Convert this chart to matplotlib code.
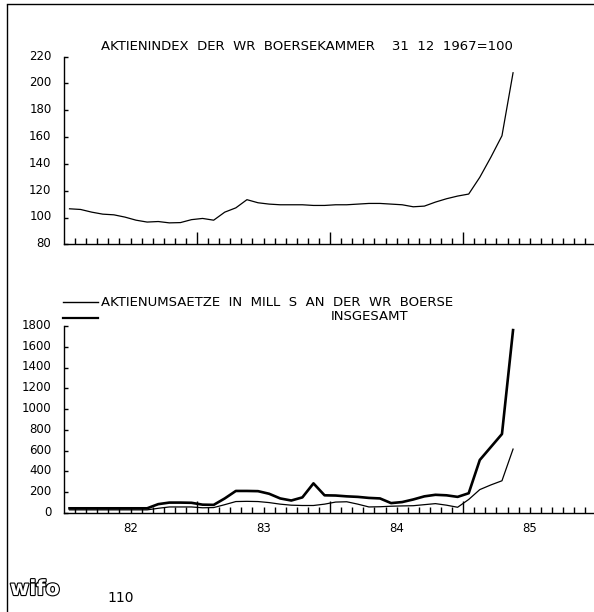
import matplotlib
matplotlib.use("Agg")
from matplotlib import pyplot as plt
from matplotlib import transforms
from matplotlib.lines import Line2D
import matplotlib.patheffects as pe
import numpy as np

# monthly values, January 1982 to May 1985
index_values = [106.5, 106, 104, 102.5, 102, 100.3, 98, 96.6, 97, 96, 96.2, 98.4,
                99.3, 98, 104, 107.2, 113.3, 111, 110, 109.5, 109.5, 109.5, 109, 109,
                109.5, 109.5, 110, 110.5, 110.5, 110, 109.5, 108, 108.5, 111.5, 114, 116,
                117.5, 130, 145, 161, 208]
turnover_total = [45, 45, 45, 45, 45, 45, 45, 45, 85, 100, 100, 98,
                  80, 78, 140, 212, 212, 210, 185, 140, 120, 150, 285, 170,
                  168, 160, 155, 145, 140, 95, 105, 130, 160, 175, 170, 155,
                  190, 510, 635, 760, 1760]
turnover_part = [30, 30, 30, 30, 30, 30, 30, 30, 45, 58, 58, 58,
                 50, 52, 80, 110, 112, 110, 100, 85, 75, 72, 72, 85,
                 105, 108, 85, 58, 60, 65, 68, 70, 80, 90, 75, 55,
                 130, 225, 270, 310, 615]
year_labels = ["82", "83", "84", "85"]
index_ticks = list(range(80, 221, 20))
turnover_ticks = list(range(0, 1801, 200))

months = np.arange(len(index_values)) + 0.5
x_max = 47.8

plt.rcParams['font.family'] = ['DejaVu Sans']
fig = plt.figure(figsize=(5.94, 6.12), dpi=100)

ax1 = fig.add_axes([0.1077, 0.6008, 0.8923, 0.3066])
ax2 = fig.add_axes([0.1077, 0.1618, 0.8923, 0.3056])


def style_axis(ax, yticks):
    for side in ("top", "right"):
        ax.spines[side].set_visible(False)
    ax.spines["left"].set_linewidth(1.0)
    ax.spines["bottom"].set_linewidth(1.0)
    ax.set_xlim(0, x_max)
    ax.set_xticks([12, 24, 36])
    ax.set_xticklabels([])
    ax.set_xticks(np.arange(1, 48), minor=True)
    ax.tick_params(axis="x", which="major", direction="in", length=9, width=1)
    ax.tick_params(axis="x", which="minor", direction="in", length=4, width=1)
    ax.set_ylim(yticks[0], yticks[-1])
    ax.set_yticks(yticks)
    ax.tick_params(axis="y", direction="in", length=3, width=1, pad=9, labelsize=8.5)
    for lab in ax.get_yticklabels():
        lab.set_transform(lab.get_transform() + transforms.ScaledTranslation(0, 1.5 / 72, fig.dpi_scale_trans))


style_axis(ax1, index_ticks)
style_axis(ax2, turnover_ticks)

ax1.plot(months, index_values, color="black", lw=0.9)
ax2.plot(months, turnover_part, color="black", lw=0.9)
ax2.plot(months, turnover_total, color="black", lw=1.9)

fig.text(101 / 594, 1 - 46 / 612, "AKTIENINDEX  DER  WR  BOERSEKAMMER    31  12  1967=100",
         fontsize=9.5, va="center", ha="left")

# legend of the turnover panel
fig.add_artist(Line2D([63 / 594, 98 / 594], [1 - 302 / 612] * 2, color="black", lw=1.0))
fig.add_artist(Line2D([63 / 594, 98 / 594], [1 - 317.5 / 612] * 2, color="black", lw=1.6))
fig.text(101 / 594, 1 - 302 / 612, "AKTIENUMSAETZE  IN  MILL  S  AN  DER  WR  BOERSE",
         fontsize=9.5, va="center", ha="left")
fig.text(331 / 594, 1 - 316 / 612, "INSGESAMT", fontsize=9.5, va="center", ha="left")

trans = transforms.blended_transform_factory(ax2.transData, ax2.transAxes)
for i, lab in enumerate(year_labels):
    ax2.text(6 + 12 * i, -0.085, lab, transform=trans, ha="center", va="center", fontsize=8.5)

# page border
fig.add_artist(Line2D([7 / 594, 7 / 594], [0, 1 - 5 / 612], color="black", lw=1.0))
fig.add_artist(Line2D([7 / 594, 1], [1 - 4 / 612] * 2, color="black", lw=1.0))

logo = fig.text(10 / 594, 1 - 589 / 612, "wifo", fontsize=15, fontweight="bold",
                color="white", va="center", ha="left")
logo.set_path_effects([pe.Stroke(linewidth=1.6, foreground="black"), pe.Normal()])
fig.text(107 / 594, 1 - 598 / 612, "110", fontsize=10, va="center", ha="left")

fig.savefig("out.png", dpi=100)
